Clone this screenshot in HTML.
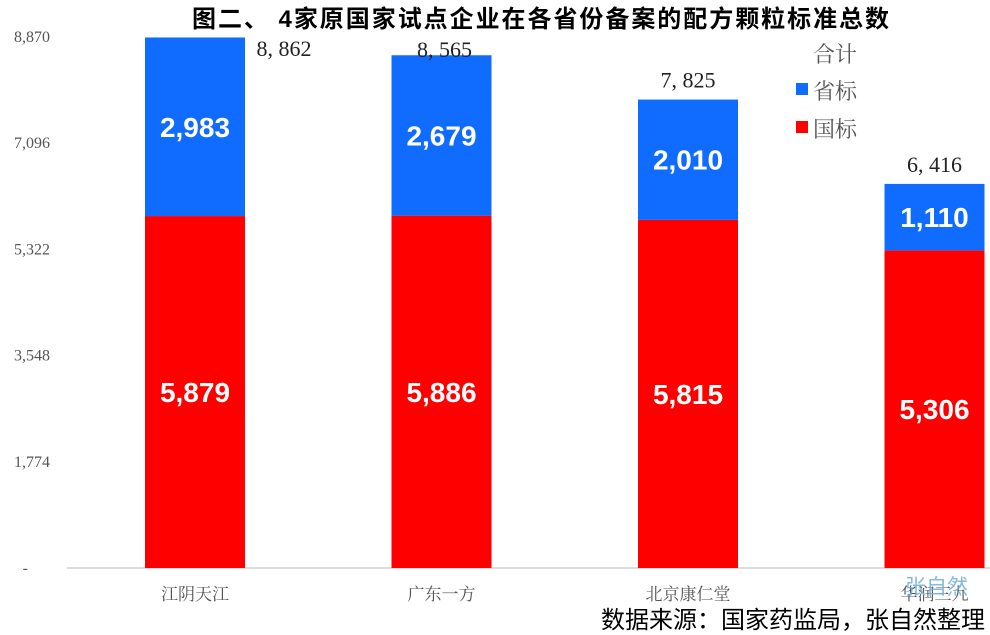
<!DOCTYPE html>
<html><head><meta charset="utf-8"><style>
body{margin:0;background:#fff;}
svg{display:block;font-family:"Liberation Sans","Noto Sans CJK SC",sans-serif;}
</style></head><body>
<svg id="c" width="990" height="635">
<text x="192" y="27" font-size="24" font-weight="bold" fill="#000" textLength="697" lengthAdjust="spacing">图二、  4家原国家试点企业在各省份备案的配方颗粒标准总数</text>
<g id="axis"></g><g id="bars"></g>
<g>
<text x="813" y="62" font-size="22" fill="#555" font-family="Liberation Serif,Noto Serif CJK SC,serif">合计</text>
<rect x="796" y="83" width="12" height="12" fill="#0f6cff"/>
<text x="813" y="99" font-size="22" fill="#555" font-family="Liberation Serif,Noto Serif CJK SC,serif">省标</text>
<rect x="796" y="121" width="12" height="12" fill="#ff0000"/>
<text x="813" y="137" font-size="22" fill="#555" font-family="Liberation Serif,Noto Serif CJK SC,serif">国标</text>
</g>
<text x="905" y="594" font-size="21" fill="#6fb0d8" opacity="0.85">张自然</text>
<text x="985" y="628" text-anchor="end" font-size="24" fill="#000">数据来源：国家药监局，张自然整理</text>
</svg>
<script>
const categories=["江阴天江","广东一方","北京康仁堂","华润三九"];
const national=[5879,5886,5815,5306];
const provincial=[2983,2679,2010,1110];
const totals=[8862,8565,7825,6416];
const ticks=[0,1774,3548,5322,7096,8870];
const tickLabels=["-","1,774","3,548","5,322","7,096","8,870"];
const NS="http://www.w3.org/2000/svg";
const y0=568,yTop=37,maxV=8870;
const y=v=>y0-(v/maxV)*(y0-yTop);
const xc=i=>195+i*246.5;
const bw=100;
function mk(t,a,p){const e=document.createElementNS(NS,t);for(const k in a)e.setAttribute(k,a[k]);p.appendChild(e);return e;}
const fmt=v=>v.toLocaleString("en-US");
const ax=document.getElementById("axis"),bars=document.getElementById("bars");
ticks.forEach((t,i)=>{
 const tx=mk("text",{x:50,y:y(t)+5,"text-anchor":"end","font-size":16,fill:"#555","font-family":"Liberation Serif,serif"},ax);
 tx.textContent=tickLabels[i];
 if(i===0){tx.setAttribute("x",28);}
 
 
});
const base=mk("line",{x1:67,x2:990,y1:y0,y2:y0,stroke:"#d0d0d0","stroke-width":1.5},ax);


categories.forEach((c,i)=>{
 const x=xc(i)-bw/2;
 const r1=mk("rect",{x:x,y:y(national[i]),width:bw,height:y0-y(national[i]),fill:"#ff0000"},bars);
 
 
 const r2=mk("rect",{x:x,y:y(national[i]+provincial[i]),width:bw,height:y(national[i])-y(national[i]+provincial[i]),fill:"#0f6cff"},bars);
 
 
 const l1=mk("text",{x:xc(i),y:(y0+y(national[i]))/2+10,"text-anchor":"middle","font-size":28,"font-weight":"bold",fill:"#fff"},bars);
 l1.textContent=fmt(national[i]);
 
 
 const l2=mk("text",{x:xc(i),y:(y(national[i])+y(national[i]+provincial[i]))/2+10,"text-anchor":"middle","font-size":28,"font-weight":"bold",fill:"#fff"},bars);
 l2.textContent=fmt(provincial[i]);
 
 
 let tx=xc(i),ty=y(totals[i])-12;
 if(i===0){tx=xc(i)+89;ty=56;}
 if(i===1){tx=xc(i)+3;ty=57;}
 const l3=mk("text",{x:tx,y:ty,"text-anchor":"middle","font-size":22,fill:"#222","font-family":"Liberation Serif,serif"},bars);
 l3.textContent=fmt(totals[i]).replace(",",", ");
 
 
 const cl=mk("text",{x:xc(i),y:600,"text-anchor":"middle","font-size":17,fill:"#555","font-family":"Liberation Serif,Noto Serif CJK SC,serif"},ax);
 cl.textContent=c;
 
 
});
</script>
</body></html>
